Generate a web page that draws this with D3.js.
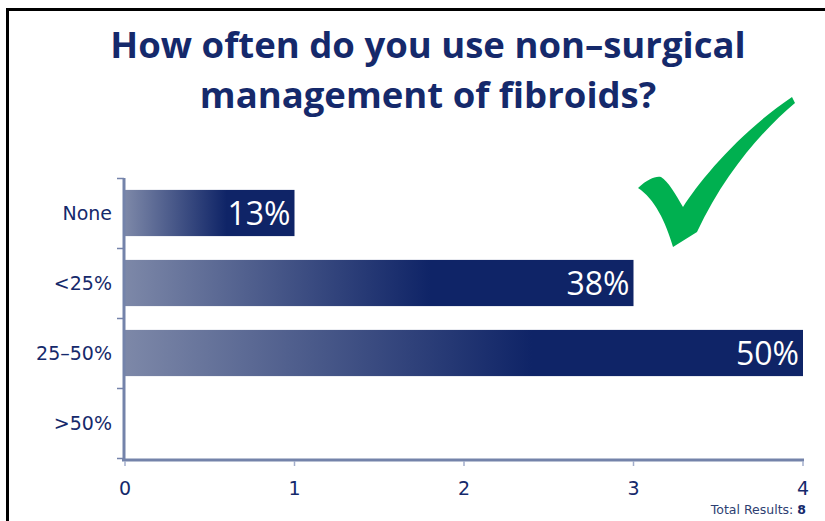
<!DOCTYPE html>
<html>
<head>
<meta charset="utf-8" />
<title>Non-surgical management of fibroids</title>
<script src="https://d3js.org/d3.v7.min.js"></script>
<style>
body { margin: 0; background: #fff; }
svg { display: block; }
text { font-family: "DejaVu Sans", Verdana, sans-serif; }
</style>
</head>
<body>
<div id="chart"></div>
<script>
// values
var categories = ["None", "<25%", "25–50%", ">50%"];
var counts = [1, 3, 4, 0];
var pctLabels = ["13%", "38%", "50%", ""];
var xTicks = [0, 1, 2, 3, 4];
var totalResults = 8;

var width = 825, height = 521;
var navy = "#15296b", axisCol = "#7483aa";

var svg = d3.select("#chart").append("svg")
    .attr("width", width).attr("height", height);

// black frame on left and top
svg.append("path")
    .attr("d", "M7.5,521 V9.5 H825")
    .attr("fill", "none").attr("stroke", "#000").attr("stroke-width", 3);

// title
var title = svg.append("text")
    .attr("text-anchor", "middle")
    .attr("fill", navy)
    .style("font-family", "'Open Sans', sans-serif")
    .style("font-size", "36.5px").style("font-weight", "bold");
title.append("tspan").attr("x", 428).attr("y", 58).text("How often do you use non–surgical");
title.append("tspan").attr("x", 428).attr("y", 108).text("management of fibroids?");

var x = d3.scaleLinear().domain([0, 4]).range([125, 803]);
var y = d3.scaleBand().domain(categories).range([178, 458])
    .paddingInner(0.34).paddingOuter(0.17);

// gradient for the bars
var grad = svg.append("defs").append("linearGradient")
    .attr("id", "barGrad").attr("x1", "0%").attr("x2", "100%");
grad.append("stop").attr("offset", "0%").attr("stop-color", "#7d88a8");
grad.append("stop").attr("offset", "60%").attr("stop-color", "#0f2467");
grad.append("stop").attr("offset", "100%").attr("stop-color", "#0f2467");

var rows = categories.map(function(c, i) { return {cat: c, v: counts[i], lab: pctLabels[i]}; });

svg.append("g").selectAll("rect")
    .data(rows.filter(function(d) { return d.v > 0; }))
    .enter().append("rect")
    .attr("x", x(0))
    .attr("y", function(d) { return y(d.cat); })
    .attr("width", function(d) { return x(d.v) - x(0); })
    .attr("height", y.bandwidth())
    .attr("fill", "url(#barGrad)");

svg.append("g").selectAll("text")
    .data(rows.filter(function(d) { return d.v > 0; }))
    .enter().append("text")
    .attr("x", function(d) { return x(d.v) - 4; })
    .attr("y", function(d) { return y(d.cat) + y.bandwidth() / 2; })
    .attr("dy", "0.36em")
    .attr("text-anchor", "end")
    .attr("fill", "#fff")
    .style("font-family", "'Open Sans', sans-serif")
    .style("font-size", "32px")
    .text(function(d) { return d.lab; });

// y axis
var yAxis = svg.append("g");
yAxis.append("line")
    .attr("x1", 124).attr("x2", 124).attr("y1", 178).attr("y2", 460)
    .attr("stroke", axisCol).attr("stroke-width", 3);
var bounds = categories.map(function(c) { return y(c) - y.step() * y.paddingInner() / 2; });
bounds.push(458);
yAxis.selectAll(".tk").data(bounds).enter().append("line")
    .attr("x1", 117).attr("x2", 124)
    .attr("y1", function(d) { return Math.round(d) + 0.5; })
    .attr("y2", function(d) { return Math.round(d) + 0.5; })
    .attr("stroke", axisCol).attr("stroke-width", 1.5);
yAxis.selectAll(".lab").data(categories).enter().append("text")
    .attr("x", 112)
    .attr("y", function(d) { return y(d) + y.bandwidth() / 2; })
    .attr("dy", "0.35em")
    .attr("text-anchor", "end")
    .attr("fill", navy)
    .style("font-size", "19px")
    .text(function(d) { return d; });

// x axis
var xAxis = svg.append("g");
xAxis.append("line")
    .attr("x1", 122).attr("x2", 804).attr("y1", 460).attr("y2", 460)
    .attr("stroke", axisCol).attr("stroke-width", 3);
xAxis.selectAll(".tk").data(xTicks).enter().append("line")
    .attr("x1", function(d) { return x(d); }).attr("x2", function(d) { return x(d); })
    .attr("y1", 461).attr("y2", 466)
    .attr("stroke", "#a3aecb").attr("stroke-width", 1.5);
xAxis.selectAll(".lab").data(xTicks).enter().append("text")
    .attr("x", function(d) { return x(d); })
    .attr("y", 495)
    .attr("text-anchor", "middle")
    .attr("fill", navy)
    .style("font-size", "19px")
    .text(function(d) { return d; });

// total results note
var tot = svg.append("text")
    .attr("x", 806).attr("y", 514)
    .attr("text-anchor", "end")
    .attr("fill", "#2e3f72")
    .style("font-size", "12.5px");
tot.append("tspan").text("Total Results: ");
tot.append("tspan").style("font-weight", "bold").attr("fill", navy).text(totalResults);

// green check mark
svg.append("path")
    .attr("d", "M638,188 C648,179 655,176 661,177 C668,181 676,195 683,207 " +
               "C700,180 740,132 792,97 L795,103 C765,128 725,172 697,232 " +
               "L673,247 C666,222 654,198 638,188 Z")
    .attr("fill", "#00b050");
</script>
</body>
</html>
